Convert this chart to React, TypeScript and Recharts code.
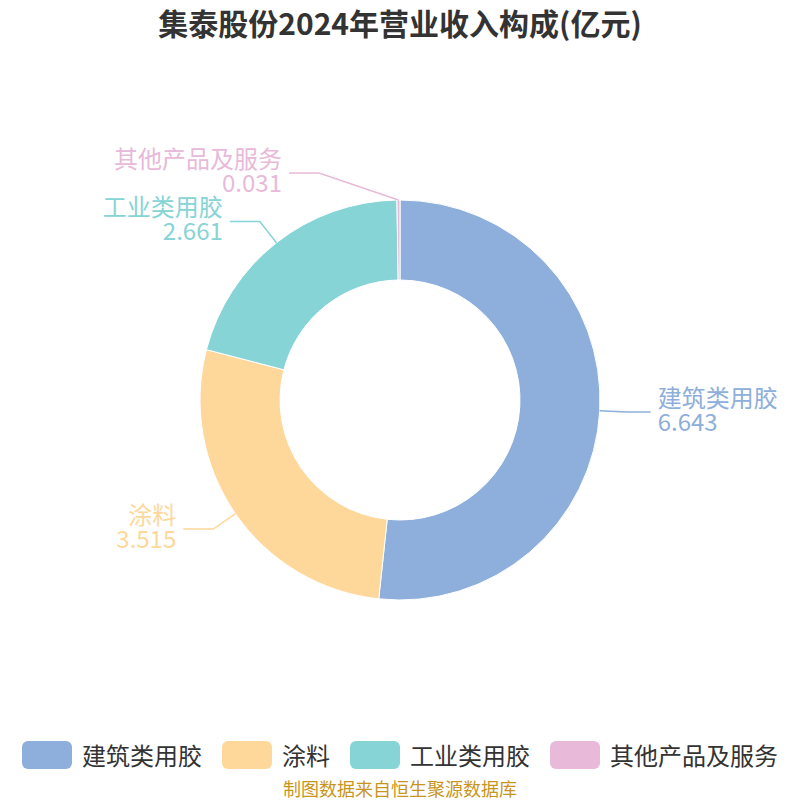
import { PieChart, Pie, Cell, Legend } from 'recharts';

const TITLE = '集泰股份2024年营业收入构成(亿元)';
const SOURCE = '制图数据来自恒生聚源数据库';
const CATEGORIES = ['建筑类用胶', '涂料', '工业类用胶', '其他产品及服务'];
const VALUES = [6.643, 3.515, 2.661, 0.031];
const COLORS = ['#8eaedb', '#fed89b', '#86d4d6', '#e8b9d9'];

const data = CATEGORIES.map((name, i) => ({ name, value: VALUES[i] }));

const RADIAN = Math.PI / 180;
const FONT = '"Noto Sans CJK SC", "Noto Sans", sans-serif';

function renderLabel(props: any) {
  const { cx, cy, midAngle, outerRadius, index } = props;
  const color = COLORS[index % COLORS.length];
  const cos = Math.cos(-midAngle * RADIAN);
  const sin = Math.sin(-midAngle * RADIAN);
  const sx = cx + outerRadius * cos;
  const sy = cy + outerRadius * sin;
  const right = cos >= 0;
  const sign = right ? 1 : -1;
  let mx = cx + (outerRadius + 27) * cos;
  const my = cy + (outerRadius + 27) * sin;
  // labels near the top get pulled sideways so they clear the ring
  if (Math.abs(mx - cx) < 80) mx = cx + sign * 81;
  const ex = mx + sign * (right ? 24 : 30);
  const tx = ex + sign * 7;
  return (
    <g>
      <polyline
        points={`${sx},${sy} ${mx},${my} ${ex},${my}`}
        fill="none"
        stroke={color}
        strokeWidth={1.5}
      />
      <text x={tx} y={my - 5} fill={color} fontSize={24} fontFamily={FONT} textAnchor={right ? 'start' : 'end'}>
        {props.name}
      </text>
      <text x={tx} y={my + 19} fill={color} fontSize={24} fontFamily={FONT} textAnchor={right ? 'start' : 'end'}>
        {VALUES[index].toFixed(3)}
      </text>
    </g>
  );
}

function LegendContent() {
  return (
    <div style={{ display: 'flex', justifyContent: 'center', alignItems: 'center', gap: 20 }}>
      {CATEGORIES.map((c, i) => (
        <div key={c} style={{ display: 'flex', alignItems: 'center', gap: 10 }}>
          <span
            style={{
              width: 50,
              height: 28,
              borderRadius: 6,
              backgroundColor: COLORS[i],
              display: 'inline-block',
            }}
          />
          <span style={{ fontSize: 24, color: '#333', fontFamily: FONT }}>{c}</span>
        </div>
      ))}
    </div>
  );
}

export default function App() {
  return (
    <div style={{ position: 'absolute', left: 0, top: 0, width: 800, height: 800, background: '#fff' }}>
      <div
        style={{
          position: 'absolute',
          top: 0,
          width: 800,
          textAlign: 'center',
          fontSize: 30,
          fontWeight: 'bold',
          color: '#333',
          fontFamily: FONT,
        }}
      >
        {TITLE}
      </div>
      <PieChart width={800} height={800} margin={{ top: 0, right: 0, bottom: 0, left: 0 }}>
        <Pie
          data={data}
          dataKey="value"
          nameKey="name"
          cx={400}
          cy={400}
          innerRadius={120}
          outerRadius={200}
          startAngle={90}
          endAngle={-270}
          stroke="#fff"
          strokeWidth={1}
          label={renderLabel}
          labelLine={false}
          isAnimationActive={false}
        >
          {data.map((_, i) => (
            <Cell key={`cell-${i}`} fill={COLORS[i % COLORS.length]} />
          ))}
        </Pie>
        <Legend
          content={<LegendContent />}
          wrapperStyle={{ position: 'absolute', top: 737, left: 0, width: 800 }}
        />
      </PieChart>
      <div
        style={{
          position: 'absolute',
          top: 775,
          width: 800,
          textAlign: 'center',
          fontSize: 18,
          color: '#c8951e',
          fontFamily: FONT,
        }}
      >
        {SOURCE}
      </div>
    </div>
  );
}
